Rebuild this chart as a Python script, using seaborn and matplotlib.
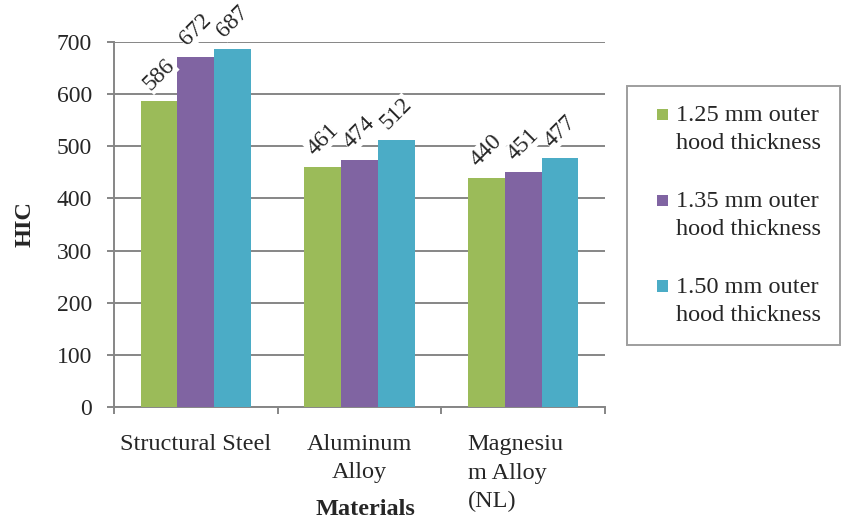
import pandas as pd
import numpy as np
import matplotlib
matplotlib.use("Agg")
import matplotlib.pyplot as plt
import matplotlib.patches as mpatches
from matplotlib.legend_handler import HandlerPatch
import seaborn as sns

materials = ["Structural Steel", "Aluminum\nAlloy", "Magnesiu\nm Alloy\n(NL)"]
thickness = ["1.25 mm outer\nhood thickness", "1.35 mm outer\nhood thickness", "1.50 mm outer\nhood thickness"]
hic_125 = [586, 461, 440]
hic_135 = [672, 474, 451]
hic_150 = [687, 512, 477]
colors = ["#9BBB59", "#8064A2", "#4BACC6"]

rows = []
for t, vals in zip(thickness, [hic_125, hic_135, hic_150]):
    for m, v in zip(materials, vals):
        rows.append({"Materials": m, "HIC": v, "thickness": t})
df = pd.DataFrame(rows)

sns.set_style("white")
plt.rcParams["font.family"] = ["Liberation Serif", "DejaVu Serif"]

grey = "#868686"
fs = 17.5

fig = plt.figure(figsize=(8.41, 5.19), dpi=100)
ax = fig.add_axes([0.1356, 0.2158, 0.5838, 0.7033])

sns.barplot(data=df, x="Materials", y="HIC", hue="thickness", palette=colors,
            width=0.675, saturation=1, linewidth=0, ax=ax, zorder=3)

ax.set_ylim(0, 700)
ax.set_yticks(np.arange(0, 701, 100))
ax.yaxis.grid(True, color=grey, linewidth=1.4, zorder=0)
ax.set_axisbelow(True)
for s in ["top", "right"]:
    ax.spines[s].set_visible(False)
for s in ["left", "bottom"]:
    ax.spines[s].set_color(grey)
    ax.spines[s].set_linewidth(1.4)

# ticks on category boundaries
ax.set_xlim(-0.5, 2.5)
ax.set_xticks([-0.5, 0.5, 1.5, 2.5])
ax.set_xticklabels([])
ax.tick_params(axis="x", length=5, color=grey, width=1.4, direction="out", bottom=True)
ax.tick_params(axis="y", length=5, color=grey, width=1.4, direction="out", left=True,
               labelsize=17, pad=11)

# category names
xt = ax.get_xaxis_transform()
ax.text(0, -0.075, materials[0], transform=xt, ha="center", va="top", fontsize=fs)
ax.text(1, -0.075, materials[1], transform=xt, ha="center", va="top", fontsize=fs,
        multialignment="center", linespacing=1.4)
ax.text(1.66, -0.075, materials[2], transform=xt, ha="left", va="top", fontsize=fs,
        multialignment="left", linespacing=1.45)

ax.set_xlabel("")
fig.text(0.435, 0.019, "Materials", ha="center", va="center", fontsize=fs, fontweight="bold")
ax.set_ylabel("HIC", fontsize=fs, fontweight="bold", labelpad=15)

# rotated value labels above each bar
for cont in ax.containers:
    for bar in cont:
        h = bar.get_height()
        ax.annotate(f"{h:.0f}", (bar.get_x() + bar.get_width() / 2, h),
                    xytext=(0, 5), textcoords="offset points", rotation=45,
                    ha="center", va="bottom", fontsize=17, zorder=4,
                    bbox=dict(facecolor="white", edgecolor="none", pad=0.3))


def top_square(legend, orig_handle, xdescent, ydescent, width, height, fontsize):
    # small square lined up with the first line of the two-line label
    s = 8.0
    return mpatches.Rectangle((-xdescent + width - s, 0.95 * fontsize - s / 2), s, s)


handles, labels = ax.get_legend_handles_labels()
leg = ax.legend(handles, labels, loc="upper left",
                bbox_to_anchor=(627 / 841, (519 - 86) / 519), bbox_transform=fig.transFigure,
                borderaxespad=0, fontsize=fs, frameon=True, fancybox=False,
                handlelength=0.91, handleheight=0.7, handletextpad=0.3,
                labelspacing=1.5, borderpad=0.79,
                handler_map={mpatches.Rectangle: HandlerPatch(patch_func=top_square)})
for t in leg.get_texts():
    t.set_linespacing(1.45)
leg.get_frame().set_edgecolor(grey)
leg.get_frame().set_linewidth(1.4)

fig.savefig("out.png", dpi=100)
